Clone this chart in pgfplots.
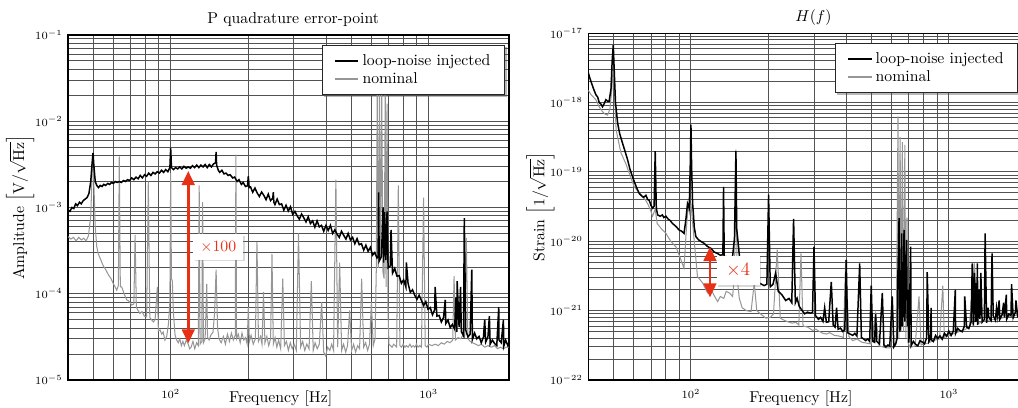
\documentclass[border=0pt]{standalone}
\usepackage{pgfplots}
\pgfplotsset{compat=1.18}
\usepackage{pgfplotstable}
\usetikzlibrary{shadows,arrows.meta}
\definecolor{annot}{RGB}{232,48,22}
\definecolor{nomgray}{RGB}{150,150,150}
\pgfdeclarelayer{shadowlayer}
\pgfsetlayers{shadowlayer,main}

% ---------- left panel: loop-noise injected ----------
\pgfplotstableread{
f y
40 9.3e-4
40.7 9.0e-4
41.4 1.0e-3
42.1 9.7e-4
42.8 1.1e-3
43.5 1.05e-3
44.3 1.15e-3
45 1.1e-3
45.8 1.2e-3
46.6 1.25e-3
47.4 1.3e-3
48.2 1.45e-3
49 2.0e-3
49.6 3.3e-3
50 4.3e-3
50.4 3.0e-3
51 2.0e-3
51.7 1.8e-3
52.5 1.7e-3
53.3 1.8e-3
54.2 1.75e-3
55 1.85e-3
56 1.8e-3
57 1.9e-3
58 1.85e-3
59 1.95e-3
60 1.9e-3
61 2.0e-3
62 1.95e-3
63.2 2.0e-3
64.4 1.95e-3
65.6 2.05e-3
66.8 2.0e-3
68 2.1e-3
69.3 2.05e-3
70.6 2.2e-3
72 2.1e-3
73.4 2.25e-3
74.8 2.15e-3
76.2 2.35e-3
77.7 2.2e-3
79.2 2.4e-3
80.7 2.3e-3
82.2 2.5e-3
83.8 2.35e-3
85.4 2.55e-3
87 2.45e-3
88.7 2.6e-3
90.4 2.5e-3
92.1 2.7e-3
93.9 2.55e-3
95.7 2.75e-3
97.5 2.6e-3
99.3 2.9e-3
100 4.9e-3
100.7 2.9e-3
102.5 2.75e-3
104.5 2.9e-3
106.5 2.8e-3
108.5 2.95e-3
110.5 2.8e-3
112.6 3.0e-3
114.8 2.85e-3
117 2.95e-3
119.2 2.85e-3
121.5 3.05e-3
123.8 2.9e-3
126.2 3.1e-3
128.6 2.9e-3
131 3.1e-3
133.5 2.95e-3
136 3.15e-3
138.6 2.9e-3
141.2 3.15e-3
143.9 2.95e-3
146.6 3.2e-3
149.3 3.3e-3
150 4.4e-3
150.7 3.1e-3
153 2.7e-3
155 2.55e-3
158 2.7e-3
161 2.45e-3
164 2.5e-3
167 2.35e-3
170 2.4e-3
174 2.2e-3
177 2.25e-3
181 2.0e-3
184 2.1e-3
188 1.85e-3
191 1.95e-3
195 1.75e-3
198.5 1.78e-3
200 2.3e-3
201.5 1.7e-3
204 1.73e-3
208 1.50e-3
212.2 1.68e-3
216.5 1.47e-3
220.8 1.34e-3
225.2 1.51e-3
229.7 1.38e-3
234.3 1.23e-3
239 1.43e-3
243.8 1.20e-3
248.7 1.28e-3
250 1.5e-3
251.2 1.15e-3
253.6 1.08e-3
258.7 1.25e-3
263.9 1.08e-3
269.2 1.10e-3
274.6 9.3e-4
280.1 1.06e-3
285.7 9.1e-4
291.4 1.02e-3
297.2 8.3e-4
303.1 9.0e-4
309.2 8.0e-4
315.4 7.3e-4
321.7 8.4e-4
328.1 7.6e-4
334.7 6.8e-4
341.4 7.8e-4
348.2 6.5e-4
355.2 7.0e-4
362.3 5.9e-4
369.5 7.0e-4
376.9 5.95e-4
384.4 6.2e-4
392.1 5.3e-4
400 6.2e-4
408 5.4e-4
416.2 6.2e-4
424.5 5.0e-4
433 5.5e-4
441.6 4.9e-4
450.5 4.5e-4
459.5 5.3e-4
468.7 4.75e-4
478 4.3e-4
487.6 5.0e-4
497.4 4.2e-4
507.3 4.5e-4
517.5 3.8e-4
527.8 4.35e-4
538.3 3.7e-4
549.1 3.8e-4
560.1 3.2e-4
571.3 3.65e-4
582.7 3.1e-4
594.4 3.45e-4
606.3 2.8e-4
618.4 3.0e-4
630.8 2.6e-4
637 2.7e-4
640 1.5e-3
643.4 2.4e-4
656.2 2.7e-4
666 1.0e-3
669.4 2.3e-4
675 8.9e-4
682.8 2.45e-4
690 9.0e-4
696.4 2.0e-4
710.3 2.1e-4
715 5.5e-4
724.5 1.73e-4
739 1.96e-4
753.8 1.6e-4
768.9 1.62e-4
784.3 1.32e-4
800 1.45e-4
816 1.2e-4
820 2.3e-4
832.3 1.32e-4
849 1.04e-4
866 1.11e-4
883.3 9.6e-5
900.9 8.6e-5
918.9 9.6e-5
937.3 8.4e-5
956.1 7.3e-5
975.2 8.1e-5
994.7 6.6e-5
1014.6 6.9e-5
1034.9 5.7e-5
1055.6 6.5e-5
1060 1.2e-4
1076.7 5.5e-5
1098.2 5.6e-5
1120.2 4.7e-5
1142.6 5.3e-5
1160 8.5e-5
1165.4 4.5e-5
1188.7 4.95e-5
1212.5 4.05e-5
1236.8 4.4e-5
1261.5 3.9e-5
1275 9.0e-5
1286.7 3.6e-5
1290 1.4e-4
1312.5 4.1e-5
1330 1.2e-4
1338.7 3.65e-5
1365.5 3.25e-5
1375 7.5e-4
1392.8 3.8e-5
1420.7 3.15e-5
1449.1 3.4e-5
1470 1.9e-4
1478 2.95e-5
1507.6 3.5e-5
1537.8 3.0e-5
1568.5 3.2e-5
1599.9 2.7e-5
1631.9 3.15e-5
1650 5.0e-5
1664.5 2.75e-5
1697.8 3.15e-5
1720 5.5e-5
1731.8 2.6e-5
1766.4 2.9e-5
1801.7 2.65e-5
1837.8 2.5e-5
1870 7.0e-5
1874.5 2.9e-5
1912 2.7e-5
1950 5.0e-5
1955 2.45e-5
1989.2 2.9e-5
2029 2.5e-5
2048 2.7e-5
}\LB

% ---------- left panel: nominal ----------
\pgfplotstableread{
f y
40 4.6e-4
41 4.3e-4
42 4.5e-4
43 4.1e-4
44 4.5e-4
45 4.2e-4
46 4.4e-4
47 4.1e-4
48 4.7e-4
49 8.0e-4
49.6 2.5e-3
50 4.0e-3
50.5 1.5e-3
51 6.0e-4
51.7 3.5e-4
52.4 2.9e-4
53.5 2.5e-4
54.8 2.1e-4
56 1.9e-4
57.4 1.65e-4
58.7 1.5e-4
60 1.3e-4
60.9 1.2e-4
61.8 1.1e-4
62.7 1.25e-4
63.2 3.9e-3
63.8 1.2e-4
64.6 1.2e-4
66 1.0e-4
67.5 8.5e-5
69 8.2e-5
70.6 7.4e-5
72 7.6e-5
72.8 4.8e-4
73.6 7.0e-5
74.5 6.5e-5
76 5.9e-5
77.5 6.2e-5
79 5.5e-5
80.7 5.4e-5
81.9 2.0e-3
83 5.3e-5
84.3 5.0e-5
85.7 4.7e-5
87 5.0e-5
88.8 1.2e-4
89.6 3.7e-5
91 3.8e-5
92.3 3.4e-5
93.5 3.6e-5
95 2.9e-5
96.5 3.2e-5
98 4.4e-5
99.3 8.0e-5
100 2.5e-3
100.7 1.5e-4
101.5 1.4e-4
102.5 6.0e-5
104 3.3e-5
105.5 2.9e-5
107 2.7e-5
108.5 3.0e-5
110 2.5e-5
111.5 2.8e-5
113 2.5e-5
115 2.9e-5
117 2.6e-5
118.5 2.3e-5
120 2.4e-5
122 2.8e-5
124 2.3e-5
126 2.7e-5
128 2.5e-5
129 1.8e-3
130 2.6e-5
132 2.8e-5
133 1.15e-3
134 2.7e-5
136 3.0e-5
138 1.3e-4
139 3.1e-5
141 2.9e-5
143 3.3e-5
146 3.6e-5
148 6.0e-5
150 1.9e-4
152 4.0e-5
154 3.0e-5
157 2.7e-5
160 3.2e-5
163 2.6e-5
166 3.4e-5
169 2.8e-5
172 3.5e-5
175 2.9e-5
178 3.3e-5
179 4.1e-3
180 3.0e-5
183 3.4e-5
186 2.7e-5
189 3.5e-5
192 2.9e-5
195 3.1e-5
198 2.6e-5
200 7.0e-5
202 2.8e-5
205 3.3e-5
209 2.6e-5
213 3.0e-5
216 4.0e-4
219 2.8e-5
223 3.2e-5
226 2.6e-5
229 1.05e-4
232 2.7e-5
236 3.2e-5
240 2.5e-5
244 3.0e-5
247 2.9e-4
250 2.6e-5
254 3.1e-5
258 2.4e-5
262 2.9e-5
267 2.3e-5
272 1.5e-4
276 2.5e-5
281 2.8e-5
286 2.2e-5
291 2.7e-5
296 2.3e-5
301 2.6e-5
307 2.2e-5
313 5.0e-4
319 2.4e-5
325 2.8e-5
331 2.2e-5
337 2.6e-5
344 2.3e-5
351 1.4e-4
357 2.2e-5
363 2.7e-5
370 2.3e-5
377 2.6e-5
385 8.0e-5
392 2.1e-5
399 1.9e-5
406 2.4e-5
414 2.2e-5
421 2.6e-5
428 2.2e-5
437 2.1e-3
444 2.4e-5
452 2.3e-4
460 2.2e-5
468 2.6e-5
477 2.1e-5
485 2.5e-5
494 6.4e-5
503 2.2e-5
512 2.6e-5
521 2.1e-5
531 2.5e-5
540 2.3e-5
550 1.5e-4
560 2.4e-5
570 2.7e-5
580 2.2e-5
590 2.6e-5
600 8.0e-5
610 2.5e-5
620 3.0e-5
627 2.0e-4
632 2.2e-2
638 2.0e-4
645 2.2e-2
651 2.5e-4
658 2.1e-2
665 1.8e-4
672 1.5e-4
679 2.0e-2
684 1.2e-4
690 1.6e-2
696 6.0e-5
702 2.6e-5
712 2.5e-5
722 2.4e-5
732 2.6e-5
742 2.5e-5
752 2.4e-5
763 1.8e-3
774 2.5e-5
785 2.4e-5
797 2.6e-5
809 2.4e-5
821 2.5e-5
833 2.4e-5
846 2.6e-5
858 2.4e-5
871 2.5e-5
884 2.4e-5
897 2.6e-5
910 2.4e-5
924 2.5e-5
938 2.4e-5
956 1.3e-3
970 2.5e-5
985 2.4e-5
1000 2.6e-5
1030 2.5e-5
1060 2.6e-5
1090 2.5e-5
1120 2.7e-5
1150 2.6e-5
1180 2.8e-5
1210 2.7e-5
1240 2.9e-5
1255 1.6e-4
1270 2.9e-5
1300 3.1e-5
1330 3.0e-5
1360 3.3e-5
1380 3.1e-5
1400 4.4e-4
1420 3.0e-5
1450 2.8e-5
1480 2.7e-5
1520 2.6e-5
1560 2.5e-5
1600 2.6e-5
1650 2.4e-5
1700 2.5e-5
1750 2.4e-5
1800 2.5e-5
1850 2.3e-5
1900 2.4e-5
1950 2.3e-5
2000 2.4e-5
2048 2.4e-5
}\LG

% ---------- right panel: loop-noise injected ----------
\pgfplotstableread{
f y
40 2.7e-18
40.5 2.3e-18
41 2.0e-18
42 1.55e-18
42.8 1.3e-18
43.5 1.2e-18
44.1 1.0e-18
44.8 9.5e-19
45.4 8.7e-19
46 9.5e-19
46.8 1.1e-18
47.5 1.05e-18
48.2 1.05e-18
49 1.6e-18
49.5 4.0e-18
50 6.8e-18
50.4 3.0e-18
51 1.0e-18
52 5.0e-19
53 3.5e-19
54.3 2.6e-19
55.5 2.0e-19
56.8 1.5e-19
58 1.1e-19
59.4 8.5e-20
60.5 7.0e-20
61.5 6.0e-20
63 4.9e-20
64.5 4.5e-20
65.5 4.3e-20
66.9 4.6e-20
68 4.0e-20
68.9 3.9e-20
70 3.3e-20
71 3.0e-20
72 3.2e-20
72.7 2.0e-19
73.4 3.0e-20
74.3 2.4e-20
76 2.3e-20
77.5 2.4e-20
78.5 2.2e-20
80 2.3e-20
81.5 2.1e-20
83 2.0e-20
84.9 1.8e-20
86.5 1.7e-20
88 1.6e-20
90 1.45e-20
92 1.4e-20
94 1.3e-20
95.5 2.0e-20
97 3.5e-20
98.5 3.0e-20
99.5 1.5e-19
100 4.8e-19
100.6 1.2e-19
101.5 3.5e-20
102 2.8e-20
103 1.6e-20
104.5 1.17e-20
107 1.05e-20
110 9.8e-21
112.6 9.3e-21
116 8.4e-21
119.5 7.9e-21
123 7.0e-21
126.5 6.7e-21
130 6.3e-21
133 6.4e-21
133.8 6.1e-20
134.6 6.0e-21
137 6.0e-21
141 5.8e-21
145 6.0e-21
147.5 1.1e-20
149.4 2.0e-19
150.5 1.5e-20
152 1.05e-20
155 5.0e-21
160 4.4e-21
167 3.5e-21
175 3.0e-21
184 2.5e-21
192 2.3e-21
197 2.4e-21
200 4.7e-20
203 2.2e-21
208 2.4e-21
213 3.5e-21
218 1.9e-21
225 1.7e-21
233 1.4e-21
240 1.5e-21
246 1.3e-21
250 2.1e-20
254 1.3e-21
258 1.5e-21
263 1.15e-21
270 1.0e-21
276 9.0e-22
283 9.5e-22
290 9.2e-22
296 9.4e-22
300 8.4e-21
304 8.5e-22
312 7.5e-22
318 8.0e-22
325 7.0e-22
330 1.1e-21
335 6.8e-22
342 6.9e-22
350 2.6e-21
356 6.2e-22
362 5.8e-22
367 1.1e-21
372 5.4e-22
380 5.6e-22
388 5.0e-22
395 5.3e-22
400 5.4e-21
405 4.8e-22
414 4.6e-22
424 4.4e-22
432 4.7e-22
440 4.3e-22
451 4.8e-21
458 4.1e-22
467 3.9e-22
476 3.7e-22
485 3.9e-22
493 3.6e-22
500 2.3e-21
507 3.6e-22
515 3.5e-22
520 9.0e-22
525 3.6e-22
538 3.3e-22
552 1.8e-21
560 3.2e-22
570 3.0e-22
580 3.2e-22
590 3.1e-22
603 1.6e-21
612 3.0e-22
622 3.3e-22
630 4.0e-22
635 4.0e-21
641 2.15e-20
645 5.0e-22
650 6.0e-22
656 1.3e-20
660 6.0e-22
663 5.0e-21
666 8.0e-22
670 1.45e-20
675 7.0e-22
680 3.0e-21
685 1.05e-20
690 6.0e-22
696 2.0e-21
700 3.45e-22
711 8.4e-21
714 3.12e-22
728.3 3.6e-22
742.9 3.27e-22
757.7 3.11e-22
772.9 3.68e-22
788.3 3.53e-22
804.1 3.31e-22
820.2 4.07e-22
824 3.6e-21
836.6 3.59e-22
850 4.0e-22
853 1.1e-21
856 3.8e-22
870.4 3.59e-22
887.8 4.38e-22
905.5 3.96e-22
923.6 4.33e-22
942.1 3.87e-22
961 4.71e-22
980.2 4.28e-22
999.8 5.06e-22
1019.8 4.39e-22
1040.2 5.09e-22
1059 2.0e-21
1061.5 4.68e-22
1082.2 5.53e-22
1103.9 5.14e-22
1126 4.96e-22
1148.5 5.96e-22
1152 1.6e-21
1171.4 5.8e-22
1194.9 5.52e-22
1218.8 6.82e-22
1232 4.8e-21
1243.2 6.08e-22
1255 3.5e-21
1268 6.86e-22
1275 2.5e-21
1282 7.0e-22
1290 4.8e-21
1293.4 6.19e-22
1310 2.0e-21
1319.2 7.58e-22
1330 3.5e-21
1345.6 6.82e-22
1372.5 7.47e-22
1382 1.3e-20
1400 6.66e-22
1420 1.1e-21
1428 8.03e-22
1456.5 7.22e-22
1470 6.7e-21
1485.7 8.47e-22
1515.4 7.25e-22
1530 1.1e-21
1545.7 8.3e-22
1566 1.4e-21
1576.6 7.52e-22
1608.2 8.75e-22
1630 1.3e-21
1640.3 7.95e-22
1670 1.7e-21
1676 7.55e-22
1706.6 8.9e-22
1740.7 8.5e-22
1750 2.4e-21
1775.5 7.91e-22
1811 9.57e-22
1820 1.4e-21
1847.3 8.36e-22
1884.2 9.26e-22
1921.9 8.19e-22
1940 1.6e-21
1960.3 1.0e-21
1999.5 9.02e-22
2039.5 9.9e-22
2048 9.6e-22
}\RB

% ---------- right panel: nominal ----------
\pgfplotstableread{
f y
40 1.5e-18
41 1.3e-18
42.8 1.1e-18
44 8.8e-19
45.4 7.4e-19
46.5 6.8e-19
47.5 6.6e-19
48.5 8.0e-19
49.3 1.5e-18
50 3.3e-18
50.6 1.2e-18
51.3 4.0e-19
53.5 1.9e-19
56 1.3e-19
58 9.0e-20
60.3 6.1e-20
62.5 5.2e-20
64.9 4.4e-20
66.5 4.0e-20
67.9 3.5e-20
69.5 2.9e-20
71 2.3e-20
72.7 2.9e-20
74 1.8e-20
77 1.5e-20
80 1.3e-20
83.5 1.0e-20
87.5 8.3e-21
90.5 6.0e-21
94 4.1e-21
96 1.5e-20
97.5 3.2e-20
99 2.5e-20
100 3.5e-20
101 2.3e-20
103 1.0e-20
106 3.1e-21
111 2.5e-21
116 1.8e-21
120 2.0e-21
123 1.65e-21
126.9 1.35e-21
130 1.6e-21
134 1.5e-21
137 1.9e-21
141 1.8e-21
145 1.6e-21
147.5 3.0e-21
149.4 2.1e-19
151 3.0e-21
154 1.5e-21
158 1.1e-21
164 1.0e-21
171 9.7e-22
176 2.5e-21
180 1.0e-21
186 9.0e-22
195 7.8e-22
203 8.0e-22
209 9.0e-22
216 7.6e-21
222 7.8e-22
226 7.5e-22
235 7.0e-22
247 6.6e-22
255 6.8e-22
262 6.2e-22
267 6.7e-21
272 6.0e-22
283 5.8e-22
296 5.2e-22
305 5.4e-22
315 5.0e-22
325 4.7e-22
335 4.6e-22
345 4.8e-22
360 4.4e-22
375 4.3e-22
390 4.1e-22
398 5.4e-21
410 4.2e-22
424 3.7e-22
440 3.9e-22
460 3.5e-22
480 3.4e-22
500 3.3e-22
520 9.0e-22
536 3.1e-22
555 3.0e-22
570 2.9e-22
590 2.9e-22
610 3.0e-22
625 3.5e-22
635 6.3e-19
640 4.0e-22
647 3.2e-19
653 5.0e-22
660 2.7e-19
667 5.0e-22
675 2.45e-19
681 4.0e-22
688 2.2e-20
694 3.5e-22
705 3.0e-22
720 3.0e-22
740 3.1e-22
766 1.6e-21
780 3.2e-22
800 3.3e-22
830 3.4e-22
860 3.6e-22
890 3.8e-22
920 3.9e-22
947 2.3e-21
960 4.1e-22
1000 4.4e-22
1050 4.7e-22
1100 5.0e-22
1150 5.3e-22
1200 5.8e-22
1255 4.8e-21
1300 6.5e-22
1350 7.0e-22
1400 7.2e-22
1500 7.5e-22
1600 7.8e-22
1700 8.2e-22
1800 8.5e-22
1900 8.8e-22
2048 9.2e-22
}\RG

\tikzset{
  annbox/.style={fill=white, text=annot, inner xsep=4.5pt, inner ysep=4.5pt,
      drop shadow={shadow xshift=1pt, shadow yshift=-1pt, opacity=0.3}},
  annarrow/.style={draw=annot, line width=1.8pt, {Triangle[length=9pt,width=8pt]}-{Triangle[length=9pt,width=8pt]}},
}

\begin{document}
\begin{tikzpicture}
\begin{axis}[
  xmode=log, ymode=log, scale only axis,
  width=280pt, height=219.1pt,
  at={(0pt,0pt)}, anchor=south west,
  xmin=40, xmax=2048, ymin=1e-5, ymax=1e-1,
  grid=both,
  major grid style={draw=black!68, line width=0.6pt},
  minor grid style={draw=black!68, line width=0.6pt},
  axis line style={line width=0.8pt},
  tick style={draw=none},
  ticklabel style={font=\scriptsize},
  xticklabel style={anchor=base, yshift=-12pt},
  xlabel={Frequency [Hz]},
  xlabel style={at={(axis description cs:0.5,0)}, anchor=base, yshift=-14.6pt, xshift=-5pt},
  ylabel style={at={(axis description cs:-0.064,0.5)}},
  title style={at={(axis description cs:0.5,1)}, anchor=base, yshift=1.3pt, xshift=3pt},
  legend style={at={(axis description cs:1,1)}, anchor=north east, name=legL,
    xshift=-2.5pt, yshift=-6.4pt, draw=black!85, line width=0.6pt, fill=white,
    font=\normalsize, inner xsep=7pt, inner ysep=3.5pt, row sep=-1pt},
  legend cell align=left,
  legend image code/.code={\draw[#1, line width=1.3pt] (0pt,0pt) -- (15pt,0pt);},
  reverse legend,
  title={P quadrature error-point},
  ylabel={Amplitude $\left[\mathrm{V}/\sqrt{\mathrm{Hz}}\right]$},
]
\addplot[color=nomgray, line width=0.65pt] table[x=f, y=y] {\LG};
\addlegendentry{nominal}
\addplot[color=black, line width=0.95pt] table[x=f, y=y] {\LB};
\addlegendentry{loop-noise injected}
\draw[annarrow] (axis cs:117,2.65e-3) -- (axis cs:117,2.65e-5);
\coordinate (boxL) at (axis cs:153,3.48e-4);
\end{axis}

\begin{axis}[
  xmode=log, ymode=log, scale only axis,
  width=280pt, height=220.2pt,
  at={(330.4pt,0pt)}, anchor=south west,
  xmin=40, xmax=2048, ymin=1e-22, ymax=1e-17,
  grid=both,
  major grid style={draw=black!68, line width=0.6pt},
  minor grid style={draw=black!68, line width=0.6pt},
  axis line style={line width=0.8pt},
  tick style={draw=none},
  ticklabel style={font=\scriptsize},
  xticklabel style={anchor=base, yshift=-12pt},
  xlabel={Frequency [Hz]},
  xlabel style={at={(axis description cs:0.5,0)}, anchor=base, yshift=-14.6pt, xshift=-5pt},
  ylabel style={at={(axis description cs:-0.064,0.5)}},
  title style={at={(axis description cs:0.5,1)}, anchor=base, yshift=1.3pt, xshift=3pt},
  legend style={at={(axis description cs:1,1)}, anchor=north east, name=legR,
    xshift=-7pt, yshift=-6.4pt, draw=black!85, line width=0.6pt, fill=white,
    font=\normalsize, inner xsep=7pt, inner ysep=3.5pt, row sep=-1pt},
  legend cell align=left,
  legend image code/.code={\draw[#1, line width=1.3pt] (0pt,0pt) -- (15pt,0pt);},
  reverse legend,
  title={$H(f)$},
  ylabel={Strain $\left[1/\sqrt{\mathrm{Hz}}\right]$},
]
\addplot[color=nomgray, line width=0.65pt] table[x=f, y=y] {\RG};
\addlegendentry{nominal}
\addplot[color=black, line width=0.95pt] table[x=f, y=y] {\RB};
\addlegendentry{loop-noise injected}
\draw[annarrow] (axis cs:118.5,8.3e-21) -- (axis cs:118.5,1.55e-21);
\coordinate (boxR) at (axis cs:152.5,3.8e-21);
\end{axis}

% shadows of the legends, behind everything
\begin{pgfonlayer}{shadowlayer}
\fill[black!28] ([shift={(1.3pt,-1.3pt)}]legL.south west) rectangle ([shift={(1.3pt,-1.3pt)}]legL.north east);
\fill[black!28] ([shift={(1.3pt,-1.3pt)}]legR.south west) rectangle ([shift={(1.3pt,-1.3pt)}]legR.north east);
\end{pgfonlayer}

% annotation boxes
\node[annbox, font=\normalsize] at (boxL) {$\times 100$};
\node[annbox, font=\large, inner xsep=6pt, inner ysep=5pt] at (boxR) {$\times 4$};

\pgfresetboundingbox
\path[use as bounding box] (-43.2pt,-17.8pt) rectangle (603.3pt,241.3pt);
\end{tikzpicture}
\end{document}
